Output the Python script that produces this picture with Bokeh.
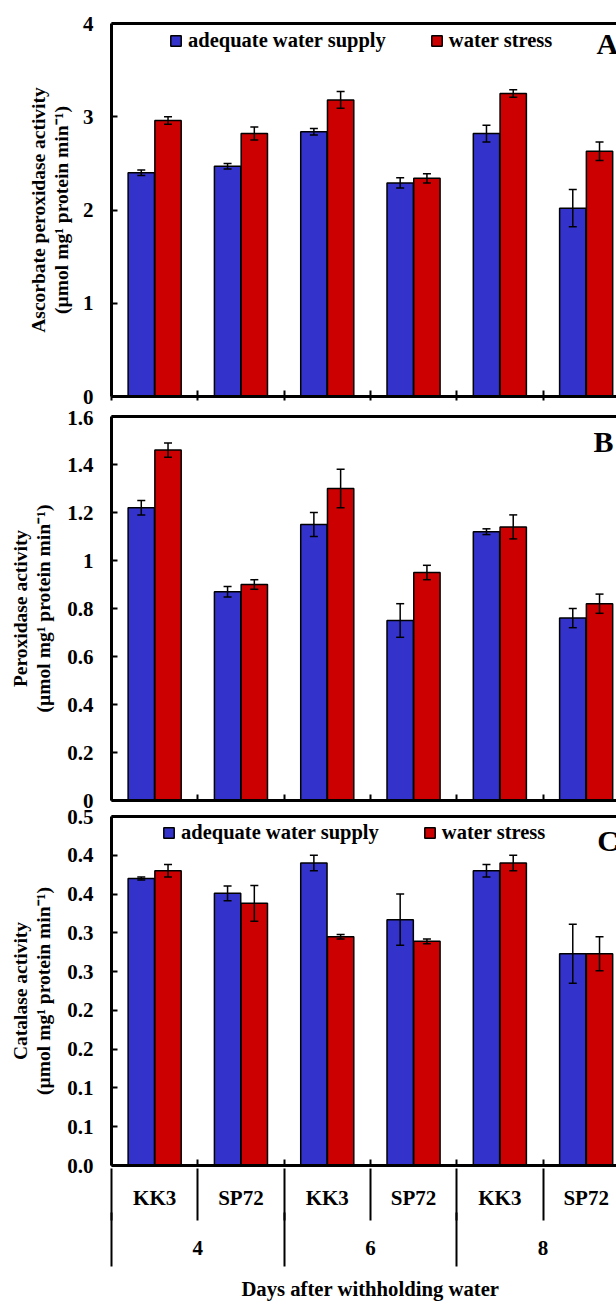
import numpy as np
from bokeh.plotting import figure
from bokeh.models import (ColumnDataSource, Range1d, LinearAxis, FixedTicker, Whisker,
                          TeeHead, Legend, LegendItem, Label)
from bokeh.layouts import column
from bokeh.embed import file_html
from bokeh.resources import INLINE

# ---------------- data ----------------
days = ["4", "6", "8"]
cultivars = ["KK3", "SP72"]
x_title = "Days after withholding water"
series_names = ["adequate water supply", "water stress"]

# Panel A: ascorbate peroxidase
apx_adequate = [2.40, 2.47, 2.84, 2.29, 2.82, 2.02]
apx_adequate_err = [0.03, 0.03, 0.035, 0.055, 0.09, 0.20]
apx_stress = [2.96, 2.82, 3.18, 2.34, 3.25, 2.63]
apx_stress_err = [0.04, 0.07, 0.09, 0.05, 0.04, 0.10]
apx_ticks = [0, 1, 2, 3, 4]
apx_tick_labels = ["0", "1", "2", "3", "4"]

# Panel B: peroxidase
pod_adequate = [1.22, 0.87, 1.15, 0.75, 1.12, 0.76]
pod_adequate_err = [0.03, 0.022, 0.05, 0.07, 0.012, 0.04]
pod_stress = [1.46, 0.90, 1.30, 0.95, 1.14, 0.82]
pod_stress_err = [0.03, 0.02, 0.08, 0.03, 0.05, 0.04]
pod_ticks = [0, 0.2, 0.4, 0.6, 0.8, 1.0, 1.2, 1.4, 1.6]
pod_tick_labels = ["0", "0.2", "0.4", "0.6", "0.8", "1", "1.2", "1.4", "1.6"]

# Panel C: catalase
cat_adequate = [0.370, 0.351, 0.390, 0.317, 0.380, 0.273]
cat_adequate_err = [0.002, 0.0095, 0.01, 0.033, 0.008, 0.038]
cat_stress = [0.380, 0.338, 0.295, 0.289, 0.390, 0.273]
cat_stress_err = [0.008, 0.023, 0.003, 0.003, 0.01, 0.022]
cat_ticks = [0.0, 0.05, 0.1, 0.15, 0.2, 0.25, 0.3, 0.35, 0.4, 0.45]
cat_tick_labels = ["0.0", "0.1", "0.1", "0.2", "0.2", "0.3", "0.3", "0.4", "0.4", "0.5"]

# ---------------- style ----------------
FONT = "Liberation Serif"
BLUE = "#3333CC"
RED = "#CC0000"
TICK_FS = "21px"
TITLE_FS = "19.5px"
WIDTH = 616
LEFT = 111

n_groups = len(days) * len(cultivars)
centers = [i + 0.5 for i in range(n_groups)]
boundaries = list(range(n_groups + 1))
X_END = (WIDTH - LEFT) / 86.3
DODGE = 0.155
BAR_W = 0.305


def bold(obj, prefix, size):
    setattr(obj, prefix + "_font", FONT)
    setattr(obj, prefix + "_font_style", "bold")
    setattr(obj, prefix + "_font_size", size)
    setattr(obj, prefix + "_color", "black")


def make_panel(height, top, bottom, y_end, yticks, ylabels, ylabel, label_std,
               adequate, adequate_err, stress, stress_err, letter, letter_xy, legend_loc):
    p = figure(width=WIDTH, height=height, x_range=Range1d(0, X_END), y_range=Range1d(0, y_end),
               output_backend="svg", toolbar_location=None, x_axis_type=None,
               min_border_left=LEFT, min_border_right=0, min_border_top=top,
               min_border_bottom=bottom)
    p.outline_line_color = None
    p.ygrid.visible = False
    p.background_fill_color = "white"
    p.border_fill_color = "white"

    xc = np.array(centers)
    src_a = ColumnDataSource(dict(x=xc - DODGE, top=adequate,
                                  upper=np.array(adequate) + np.array(adequate_err),
                                  lower=np.array(adequate) - np.array(adequate_err)))
    src_s = ColumnDataSource(dict(x=xc + DODGE, top=stress,
                                  upper=np.array(stress) + np.array(stress_err),
                                  lower=np.array(stress) - np.array(stress_err)))
    rb = p.vbar(x="x", top="top", bottom=0, width=BAR_W, source=src_a,
                fill_color=BLUE, line_color="black", line_width=1.5)
    rr = p.vbar(x="x", top="top", bottom=0, width=BAR_W, source=src_s,
                fill_color=RED, line_color="black", line_width=1.5)
    for src in (src_a, src_s):
        w = Whisker(source=src, base="x", upper="upper", lower="lower",
                    line_color="black", line_width=1.5,
                    upper_head=TeeHead(size=8, line_width=1.5, line_color="black"),
                    lower_head=TeeHead(size=8, line_width=1.5, line_color="black"))
        w.level = "annotation"
        p.add_layout(w)

    ya = p.yaxis[0]
    ya.ticker = FixedTicker(ticks=yticks)
    ya.major_label_overrides = dict(zip(yticks, ylabels))
    ya.axis_line_width = 3
    ya.major_tick_in = 6
    ya.major_tick_out = 0
    ya.major_tick_line_width = 2
    ya.minor_tick_line_color = None
    ya.major_label_standoff = 18
    bold(ya, "major_label_text", TICK_FS)
    ya.axis_label = ylabel
    ya.axis_label_standoff = label_std
    bold(ya, "axis_label_text", TITLE_FS)
    ya.axis_label_text_line_height = 1.1

    top_axis = LinearAxis(ticker=FixedTicker(ticks=[]), axis_line_width=3,
                          major_tick_in=0, major_tick_out=0, major_label_standoff=0,
                          minor_tick_line_color=None)
    p.add_layout(top_axis, "above")

    if legend_loc is not None:
        lg = Legend(items=[LegendItem(label=series_names[0], renderers=[rb]),
                           LegendItem(label=series_names[1], renderers=[rr])],
                    location=legend_loc, orientation="horizontal",
                    glyph_width=13, glyph_height=13, label_standoff=6, spacing=44,
                    padding=0, margin=0, border_line_color=None,
                    background_fill_alpha=0)
        bold(lg, "label_text", "20.5px")
        p.add_layout(lg)

    lab = Label(x=letter_xy[0], y=letter_xy[1], text=letter, text_baseline="middle",
                text_align="left")
    bold(lab, "text", "30px")
    p.add_layout(lab)
    return p


ylabel_a = "Ascorbate peroxidase activity\n(µmol mg¹ protein min⁻¹)"
ylabel_b = "Peroxidase activity\n(µmol mg¹ protein min⁻¹)"
ylabel_c = "Catalase activity\n(µmol mg¹ protein min⁻¹)"

pa = make_panel(410, 23, 14, 4, apx_ticks, apx_tick_labels, ylabel_a, 8,
                apx_adequate, apx_adequate_err, apx_stress, apx_stress_err,
                "A", (5.62, 3.785), (58, 344))
pb = make_panel(398, 6, 8, 1.6, pod_ticks, pod_tick_labels, ylabel_b, 10,
                pod_adequate, pod_adequate_err, pod_stress, pod_stress_err,
                "B", (5.585, 1.496), None)
pc = make_panel(497, 8, 140, 0.45, cat_ticks, cat_tick_labels, ylabel_c, 10,
                cat_adequate, cat_adequate_err, cat_stress, cat_stress_err,
                "C", (5.63, 0.419), (51, 321))

# Panel A bottom axis: inward boundary ticks + detached tick strip
a1 = LinearAxis(ticker=FixedTicker(ticks=[], minor_ticks=boundaries), axis_line_width=3,
                major_tick_in=0, major_tick_out=10, minor_tick_in=6, minor_tick_out=0,
                minor_tick_line_width=2, major_label_standoff=0)
a2 = LinearAxis(ticker=FixedTicker(ticks=[], minor_ticks=boundaries), axis_line_color=None,
                major_tick_in=0, major_tick_out=0, minor_tick_in=0, minor_tick_out=4,
                minor_tick_line_width=2, major_label_standoff=0)
pa.add_layout(a1, "below")
pa.add_layout(a2, "below")

# Panel B bottom axis
b1 = LinearAxis(ticker=FixedTicker(ticks=[], minor_ticks=boundaries), axis_line_width=3,
                major_tick_in=0, major_tick_out=0, minor_tick_in=6, minor_tick_out=0,
                minor_tick_line_width=2, major_label_standoff=0)
pb.add_layout(b1, "below")

# Panel C bottom: cultivar labels, separators, day labels, day separators, title
sub_labels = {c: cultivars[i % len(cultivars)] for i, c in enumerate(centers)}
day_centers = [len(cultivars) * i + len(cultivars) / 2 for i in range(len(days))]
day_labels = dict(zip(day_centers, days))
day_bounds = boundaries[::len(cultivars)]
mid = n_groups / 2

c1 = LinearAxis(ticker=FixedTicker(ticks=centers, minor_ticks=boundaries),
                major_label_overrides=sub_labels, axis_line_width=3,
                major_tick_in=0, major_tick_out=0, major_tick_line_color=None,
                minor_tick_in=6, minor_tick_out=0, minor_tick_line_width=2,
                major_label_standoff=20)
bold(c1, "major_label_text", TICK_FS)
cs = LinearAxis(ticker=FixedTicker(ticks=[], minor_ticks=boundaries), axis_line_color=None,
                major_tick_in=0, major_tick_out=0, minor_tick_in=44, minor_tick_out=8,
                minor_tick_line_width=2, major_label_standoff=0)
c2 = LinearAxis(ticker=FixedTicker(ticks=day_centers), major_label_overrides=day_labels,
                axis_line_color=None, major_tick_in=0, major_tick_out=0,
                major_tick_line_color=None, minor_tick_line_color=None,
                major_label_standoff=20)
bold(c2, "major_label_text", TICK_FS)
cd = LinearAxis(ticker=FixedTicker(ticks=[], minor_ticks=day_bounds), axis_line_color=None,
                major_tick_in=0, major_tick_out=0, minor_tick_in=45, minor_tick_out=9,
                minor_tick_line_width=2, major_label_standoff=0)
c3 = LinearAxis(ticker=FixedTicker(ticks=[mid]), major_label_overrides={mid: x_title},
                axis_line_color=None, major_tick_in=0, major_tick_out=0,
                major_tick_line_color=None, minor_tick_line_color=None,
                major_label_standoff=11)
bold(c3, "major_label_text", "20.7px")
for ax in (c1, cs, c2, cd, c3):
    pc.add_layout(ax, "below")

layout = column(pa, pb, pc, spacing=0)
open("out.html", "w").write(file_html(layout, INLINE))
